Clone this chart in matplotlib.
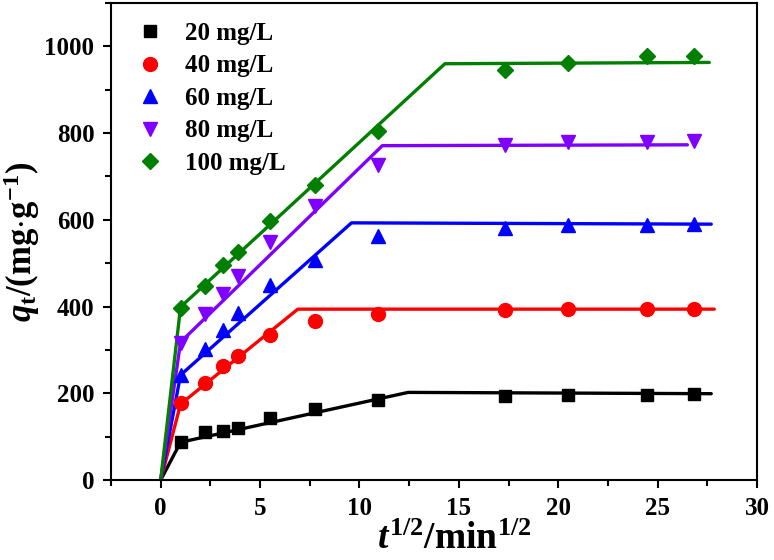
import numpy as np
import matplotlib
matplotlib.use("Agg")
import matplotlib.pyplot as plt
from matplotlib.ticker import MultipleLocator

plt.rcParams['font.family'] = 'Liberation Serif'
plt.rcParams['font.weight'] = 'bold'
plt.rcParams['axes.labelweight'] = 'bold'
plt.rcParams['mathtext.fontset'] = 'custom'
plt.rcParams['mathtext.rm'] = 'Liberation Serif:bold'
plt.rcParams['mathtext.it'] = 'Liberation Serif:bold:italic'
plt.rcParams['mathtext.bf'] = 'Liberation Serif:bold'

# sqrt(t) for t = 1, 5, 10, 15, 30, 60, 120, 300, 420, 600, 720 min
t_sqrt = [1.0, 2.24, 3.16, 3.87, 5.48, 7.75, 10.95, 17.32, 20.49, 24.49, 26.83]

labels = ['20 mg/L', '40 mg/L', '60 mg/L', '80 mg/L', '100 mg/L']
q20 = [88, 111, 112, 120, 142, 163, 185, 193, 196, 196, 198]
q40 = [177, 223, 263, 286, 335, 367, 383, 392, 394, 394, 394]
q60 = [242, 302, 346, 385, 449, 507, 563, 582, 587, 589, 591]
q80 = [317, 383, 430, 470, 548, 633, 727, 772, 779, 779, 782]
q100 = [397, 448, 496, 526, 598, 681, 804, 945, 962, 977, 978]

# piecewise fitted lines (breakpoints)
fit20_x = [0, 1.0, 12.45, 27.7]
fit20_y = [0, 87, 202, 199]
fit40_x = [0, 1.0, 6.9, 27.85]
fit40_y = [0, 175, 394, 394]
fit60_x = [0, 1.0, 9.6, 27.7]
fit60_y = [0, 242, 593, 590]
fit80_x = [0, 1.0, 11.15, 26.5]
fit80_y = [0, 318, 771, 773]
fit100_x = [0, 1.0, 14.3, 27.6]
fit100_y = [0, 399, 960, 963]

series = [q20, q40, q60, q80, q100]
fits = [(fit20_x, fit20_y), (fit40_x, fit40_y), (fit60_x, fit60_y),
        (fit80_x, fit80_y), (fit100_x, fit100_y)]
colors = ['black', '#ff0000', '#0000ff', '#7f00ff', '#007f00']
markers = ['s', 'o', '^', 'v', 'D']
msizes = [9, 10, 10, 10, 8.5]

fig = plt.figure(figsize=(7.74, 5.6), dpi=100)
ax = fig.add_axes([0.1434, 0.1429, 0.978 - 0.1434, 0.8517])

for q, (fx, fy), c, m, ms, lab in zip(series, fits, colors, markers, msizes, labels):
    ax.plot(fx, fy, color=c, lw=2.4, solid_capstyle='round', zorder=2)
    ax.plot(t_sqrt, q, linestyle='none', marker=m, color=c, markersize=ms,
            label=lab, zorder=3)

ax.set_xlim(-2.5, 30)
ax.set_ylim(0, 1100)
ax.xaxis.set_major_locator(MultipleLocator(5))
ax.xaxis.set_minor_locator(MultipleLocator(2.5))
ax.yaxis.set_major_locator(MultipleLocator(200))
ax.yaxis.set_minor_locator(MultipleLocator(100))
ax.tick_params(which='major', direction='out', length=6, width=1.5, labelsize=18, pad=6)
ax.tick_params(which='minor', direction='out', length=4, width=1.5)
for s in ax.spines.values():
    s.set_linewidth(1.5)

ax.set_xlabel(r'$t^{1/2}$/min$^{1/2}$', fontsize=27)
ax.xaxis.set_label_coords(0.531, -0.088)
ax.xaxis.label.set_va('top')
ax.set_ylabel(r'$q_{\rm t}$/(mg$\cdot$g$^{-1}$)', fontsize=25, labelpad=2)

ax.legend(loc='upper left', bbox_to_anchor=(-0.008, 1.0), frameon=False,
          fontsize=18, handletextpad=0.4, labelspacing=0.38, borderaxespad=0.35)

fig.savefig('out.png', dpi=100)
